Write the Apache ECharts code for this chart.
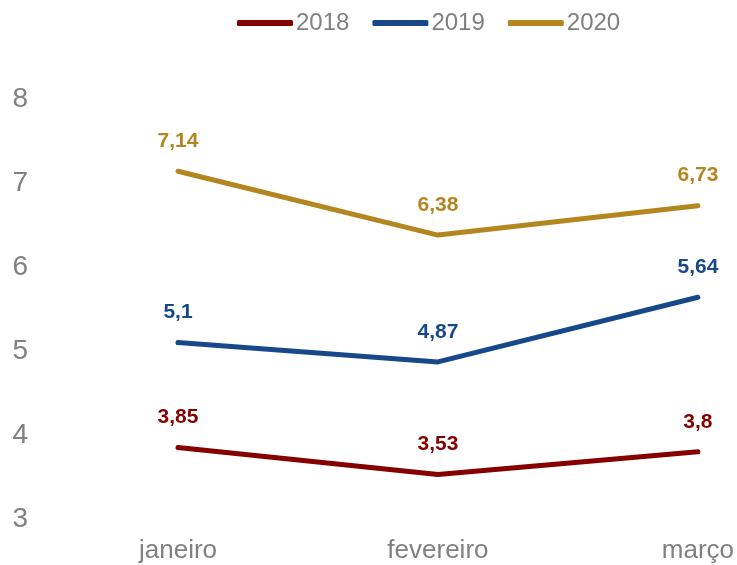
<!DOCTYPE html>
<html>
<head>
<meta charset="utf-8">
<script src="https://cdn.jsdelivr.net/npm/echarts@6/dist/echarts.min.js"></script>
<style>
  html, body { margin: 0; padding: 0; background: #fff; }
  #main { width: 737px; height: 565px; }
</style>
</head>
<body>
<div id="main"></div>
<script>
const meses = ['janeiro', 'fevereiro', 'março']
const anos = ['2018', '2019', '2020']
const valores2018 = [3.85, 3.53, 3.8]
const valores2019 = [5.1, 4.87, 5.64]
const valores2020 = [7.14, 6.38, 6.73]
const cores = ['#850000', '#17488a', '#b3861f']

const chart = echarts.init(document.getElementById('main'))

// rótulo em negrito com vírgula decimal
function serie(nome, dados, cor) {
  return {
    name: nome,
    type: 'line',
    data: dados,
    symbol: 'circle',
    symbolSize: 1,
    lineStyle: { width: 5, color: cor, cap: 'round' },
    itemStyle: { color: cor },
    label: {
      show: true,
      position: 'top',
      distance: 19,
      color: cor,
      fontSize: 21,
      fontWeight: 'bold',
      fontFamily: 'Liberation Sans',
      formatter: p => String(p.value).replace('.', ',')
    }
  }
}

const option = {
  animation: false,
  legend: {
    top: 6,
    left: 232,
    itemWidth: 56,
    itemHeight: 6,
    itemGap: 23,
    icon: 'roundRect',
    textStyle: { fontSize: 24, color: '#808080', fontFamily: 'Liberation Sans', padding: [0, 0, 0, -2] },
    data: anos
  },
  grid: { left: 178, right: 34, top: 99, bottom: 46 },
  xAxis: {
    type: 'category',
    boundaryGap: false,
    data: meses,
    axisLine: { show: false },
    axisTick: { show: false },
    axisLabel: { fontSize: 26, color: '#808080', margin: 19, fontFamily: 'Liberation Sans' }
  },
  yAxis: {
    type: 'value',
    min: 3,
    max: 8,
    interval: 1,
    splitLine: { show: false },
    axisLine: { show: false },
    axisTick: { show: false },
    axisLabel: { fontSize: 28, color: '#808080', margin: 150, fontFamily: 'Liberation Sans' }
  },
  series: [
    serie('2018', valores2018, cores[0]),
    serie('2019', valores2019, cores[1]),
    serie('2020', valores2020, cores[2])
  ]
}

chart.setOption(option)
</script>
</body>
</html>
